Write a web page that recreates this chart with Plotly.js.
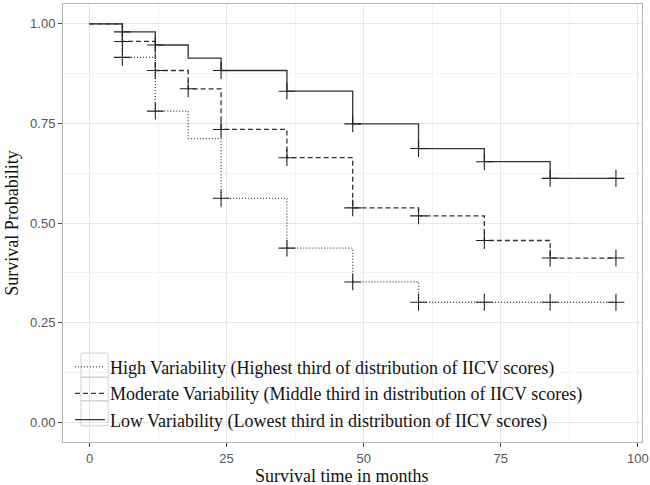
<!DOCTYPE html>
<html>
<head>
<meta charset="utf-8">
<script src="https://cdn.plot.ly/plotly-3.0.1.min.js"></script>
<style>
  html, body { margin: 0; padding: 0; background: #ffffff; }
  #chart { width: 650px; height: 485px; }
</style>
</head>
<body>
<div id="chart"></div>
<script>
// ---- data ----
const times = [0, 6, 12, 18, 24, 36, 48, 60, 72, 84, 96];
const survHigh = [1, 0.916, 0.781, 0.712, 0.562, 0.437, 0.352, 0.301, 0.301, 0.301, 0.301];
const survModerate = [1, 0.956, 0.883, 0.837, 0.735, 0.664, 0.538, 0.518, 0.456, 0.412, 0.412];
const survLow = [1, 0.980, 0.947, 0.914, 0.883, 0.831, 0.749, 0.687, 0.654, 0.612, 0.612];

const censorHigh = [6, 12, 24, 36, 48, 60, 72, 84, 96];
const censorModerate = [6, 12, 18, 24, 36, 48, 60, 72, 84, 96];
const censorLow = [6, 12, 24, 36, 48, 60, 72, 84, 96];

const labelHigh = "High Variability (Highest third of distribution of IICV scores)";
const labelModerate = "Moderate Variability (Middle third in distribution of IICV scores)";
const labelLow = "Low Variability (Lowest third in distribution of IICV scores)";

const xTicks = [0, 25, 50, 75, 100];
const yTicks = [0, 0.25, 0.5, 0.75, 1];

const xTitle = "Survival time in months";
const yTitle = "Survival Probability";

// ---- build traces ----
function stepAt(surv, t) {
  let v = surv[0];
  for (let i = 0; i < times.length; i++) { if (times[i] <= t) v = surv[i]; }
  return v;
}

const groups = [
  {name: labelHigh, surv: survHigh, cens: censorHigh, dash: "1px,2px", color: "#444"},
  {name: labelModerate, surv: survModerate, cens: censorModerate, dash: "5px,3px", color: "#333"},
  {name: labelLow, surv: survLow, cens: censorLow, dash: "solid", color: "#333"}
];

const traces = [];
groups.forEach(g => {
  traces.push({
    x: times, y: g.surv, type: "scatter", mode: "lines", name: g.name,
    line: {shape: "hv", color: g.color, width: 1.3, dash: g.dash},
    hoverinfo: "skip"
  });
});
groups.forEach(g => {
  traces.push({
    x: g.cens, y: g.cens.map(t => stepAt(g.surv, t)), type: "scatter", mode: "markers",
    showlegend: false,
    marker: {symbol: "cross-thin", size: 12, line: {color: "#222", width: 1.1}},
    hoverinfo: "skip"
  });
});

const keyBoxes = [[0.203, 0.148], [0.148, 0.094], [0.094, 0.037]].map(r => ({
  type: "rect", xref: "paper", yref: "paper", x0: 0.031, x1: 0.078, y0: r[1], y1: r[0],
  line: {color: "#d0d0d0", width: 1}, fillcolor: "rgba(0,0,0,0)", layer: "above"
}));

const serif = "Liberation Serif, Times New Roman, serif";

const layout = {
  width: 650, height: 485,
  margin: {l: 63, r: 8, t: 4, b: 43},
  paper_bgcolor: "#ffffff", plot_bgcolor: "#ffffff",
  showlegend: true,
  legend: {
    x: 0.012, y: 0.213, xanchor: "left", yanchor: "top",
    bgcolor: "rgba(0,0,0,0)", borderwidth: 0,
    font: {family: serif, size: 18, color: "#111"},
    traceorder: "normal", itemwidth: 30
  },
  xaxis: {
    range: [-4.83, 100.75], tickvals: xTicks, ticktext: xTicks.map(String),
    ticks: "outside", ticklen: 4, tickcolor: "#444", tickwidth: 1,
    tickfont: {family: "Liberation Sans, Arial, sans-serif", size: 13, color: "#555"},
    showgrid: true, gridcolor: "#e6e6e6", gridwidth: 1,
    minor: {dtick: 12.5, tick0: 0, showgrid: true, gridcolor: "#f3f3f3", gridwidth: 1},
    zeroline: false, showline: true, mirror: true, linecolor: "#b5b5b5", linewidth: 1
  },
  yaxis: {
    range: [-0.05, 1.05], tickvals: yTicks, ticktext: yTicks.map(v => v.toFixed(2)),
    ticks: "outside", ticklen: 4, tickcolor: "#444", tickwidth: 1,
    tickfont: {family: "Liberation Sans, Arial, sans-serif", size: 13, color: "#555"},
    showgrid: true, gridcolor: "#e6e6e6", gridwidth: 1,
    minor: {dtick: 0.125, tick0: 0, showgrid: true, gridcolor: "#f3f3f3", gridwidth: 1},
    zeroline: false, showline: true, mirror: true, linecolor: "#b5b5b5", linewidth: 1,
    title: {text: yTitle, standoff: 6, font: {family: serif, size: 18, color: "#111"}}
  },
  annotations: [{
    text: xTitle, xref: "paper", yref: "paper", x: 0.482, y: -0.077,
    xanchor: "center", yanchor: "middle", showarrow: false,
    font: {family: serif, size: 18, color: "#111"}
  }],
  shapes: keyBoxes
};

Plotly.newPlot("chart", traces, layout, {displayModeBar: false, staticPlot: true});
</script>
</body>
</html>
